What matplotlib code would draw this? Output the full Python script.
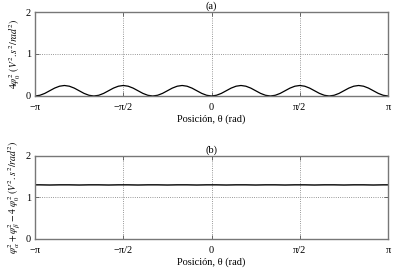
import numpy as np
import matplotlib
matplotlib.use('Agg')
import matplotlib.pyplot as plt

plt.rcParams['font.family'] = ['Liberation Serif', 'DejaVu Serif']
plt.rcParams['mathtext.fontset'] = 'stix'

# sample positions: -pi .. pi in steps of pi/36
theta = np.linspace(-np.pi, np.pi, 73)

# (a), one hump per pi/3
hump = [0.0, 0.017, 0.062, 0.125, 0.188, 0.233, 0.25, 0.233, 0.188, 0.125, 0.062, 0.017]
top_vals = hump * 6 + [0.0]

# (b) almost flat, tiny ripple
bot_vals = [1.30, 1.30, 1.298, 1.296, 1.298, 1.30, 1.30, 1.30, 1.298, 1.296, 1.298, 1.30] * 6 + [1.30]

xticks = [-np.pi, -np.pi / 2, 0, np.pi / 2, np.pi]
xlabels = ['\u2212\u03c0', '\u2212\u03c0/2', '0', '\u03c0/2', '\u03c0']

fig = plt.figure(figsize=(3.96, 2.71), dpi=100)
ax1 = fig.add_axes([0.0884, 0.6458, 0.8916, 0.3099])
ax2 = fig.add_axes([0.0884, 0.1181, 0.8916, 0.3074])

ax1.plot(theta, top_vals, color='black', lw=0.9)
ax2.plot(theta, bot_vals, color='black', lw=1.0)

ylabels = [r'$4\varphi_0^2\ (V^2.s^2/rad^2)$',
           r'$\varphi_\alpha^2+\varphi_\beta^2-4\ \varphi_0^2\ (V^2.s^2/rad^2)$']
for ax, title, yl in zip([ax1, ax2], ['(a)', '(b)'], ylabels):
    ax.set_xlim(-np.pi, np.pi)
    ax.set_ylim(0, 2)
    ax.set_xticks(xticks)
    ax.set_xticklabels(xlabels)
    ax.set_yticks([0, 1, 2])
    ax.grid(True, linestyle=':', color='#777777', lw=0.6)
    ax.tick_params(direction='in', length=3, labelsize=7.5, top=True, right=True,
                   width=0.6, color='#555555')
    ax.tick_params(axis='x', pad=5)
    ax.tick_params(axis='y', pad=3)
    for s in ax.spines.values():
        s.set_color('#777777')
        s.set_linewidth(1.0)
    ax.set_title(title, fontsize=7.5, pad=2)
    ax.set_xlabel('Posición, \u03b8 (rad)', fontsize=7.5, labelpad=2)
    ax.set_ylabel(yl, fontsize=7, labelpad=2)

fig.savefig('out.png', dpi=100)
